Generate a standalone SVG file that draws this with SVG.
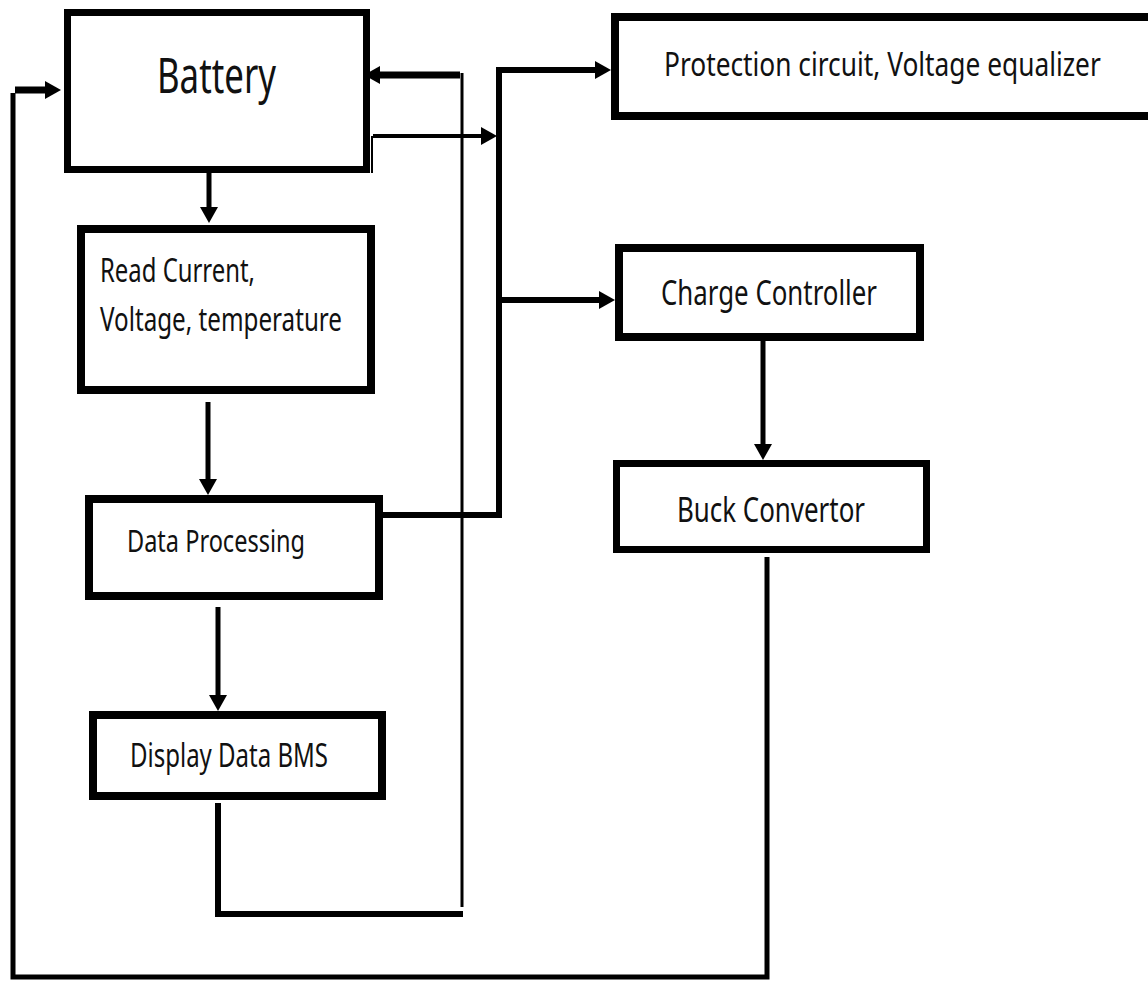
<svg xmlns="http://www.w3.org/2000/svg" width="1148" height="983" viewBox="0 0 1148 983">
<style>
.box{fill:#fff;stroke:#000}
.t{font-family:"Noto Sans","Liberation Sans",sans-serif;fill:#111}
.c{fill:none;stroke:#000;stroke-linejoin:miter}
</style>
<defs>
<marker id="ah" viewBox="0 0 16 18" markerWidth="16" markerHeight="18" refX="8" refY="9" orient="auto" markerUnits="userSpaceOnUse">
<path d="M0,0 L16,9 L0,18 z" fill="#000"/>
</marker>
</defs>
<rect width="1148" height="983" fill="#fff"/>
<g id="connectors">
<line class="c" x1="209" y1="173" x2="209" y2="215" stroke-width="5" marker-end="url(#ah)"/>
<line class="c" x1="208" y1="402" x2="208" y2="487" stroke-width="5" marker-end="url(#ah)"/>
<line class="c" x1="218" y1="607" x2="218" y2="703" stroke-width="5" marker-end="url(#ah)"/>
<path class="c" d="M218 803 V914 H463" stroke-width="6"/>
<line class="c" x1="462" y1="907" x2="462" y2="73" stroke-width="3"/>
<line class="c" x1="460" y1="75" x2="372" y2="75" stroke-width="7" marker-end="url(#ah)"/>
<line class="c" x1="373" y1="136" x2="489" y2="136" stroke-width="4" marker-end="url(#ah)"/>
<line class="c" x1="372" y1="136" x2="372" y2="173" stroke-width="2"/>
<path class="c" d="M383 515 H499 V70 H603" stroke-width="6" marker-end="url(#ah)"/>
<line class="c" x1="499" y1="300" x2="607" y2="300" stroke-width="6" marker-end="url(#ah)"/>
<line class="c" x1="763" y1="341" x2="763" y2="452" stroke-width="5" marker-end="url(#ah)"/>
<path class="c" d="M767 557 V977 H13 V93" stroke-width="5"/>
<line class="c" x1="15" y1="90" x2="53" y2="90" stroke-width="7" marker-end="url(#ah)"/>
</g>
<g id="battery">
<rect class="box" x="67.5" y="12.5" width="299" height="157" stroke-width="7"/>
<text class="t" x="157" y="93" font-size="49" textLength="119" lengthAdjust="spacingAndGlyphs">Battery</text>
</g>
<g id="protection">
<path class="box" d="M1148 17 H615 V116 H1148" stroke-width="8"/>
<text class="t" transform="matrix(0.8,0,0,1,664,76)" x="0" y="0" font-size="32" textLength="546" lengthAdjust="spacingAndGlyphs">Protection circuit, Voltage equalizer</text>
</g>
<g id="read">
<rect class="box" x="81" y="229" width="290" height="161" stroke-width="8"/>
<text class="t" x="100" y="282" font-size="32" textLength="155" lengthAdjust="spacingAndGlyphs">Read Current,</text>
<text class="t" x="100" y="331" font-size="32" textLength="242" lengthAdjust="spacingAndGlyphs">Voltage, temperature</text>
</g>
<g id="dataprocessing">
<rect class="box" x="89" y="499" width="290" height="97" stroke-width="8"/>
<text class="t" x="127" y="552" font-size="31" textLength="178" lengthAdjust="spacingAndGlyphs">Data Processing</text>
</g>
<g id="display">
<rect class="box" x="93" y="715" width="289" height="81" stroke-width="8"/>
<text class="t" x="130" y="767" font-size="33" textLength="198" lengthAdjust="spacingAndGlyphs">Display Data BMS</text>
</g>
<g id="charge">
<rect class="box" x="619" y="248" width="301" height="89" stroke-width="8"/>
<text class="t" x="661" y="305" font-size="35" textLength="216" lengthAdjust="spacingAndGlyphs">Charge Controller</text>
</g>
<g id="buck">
<rect class="box" x="616.5" y="463.5" width="310" height="86" stroke-width="7"/>
<text class="t" x="677" y="522" font-size="35" textLength="188" lengthAdjust="spacingAndGlyphs">Buck Convertor</text>
</g>
</svg>
